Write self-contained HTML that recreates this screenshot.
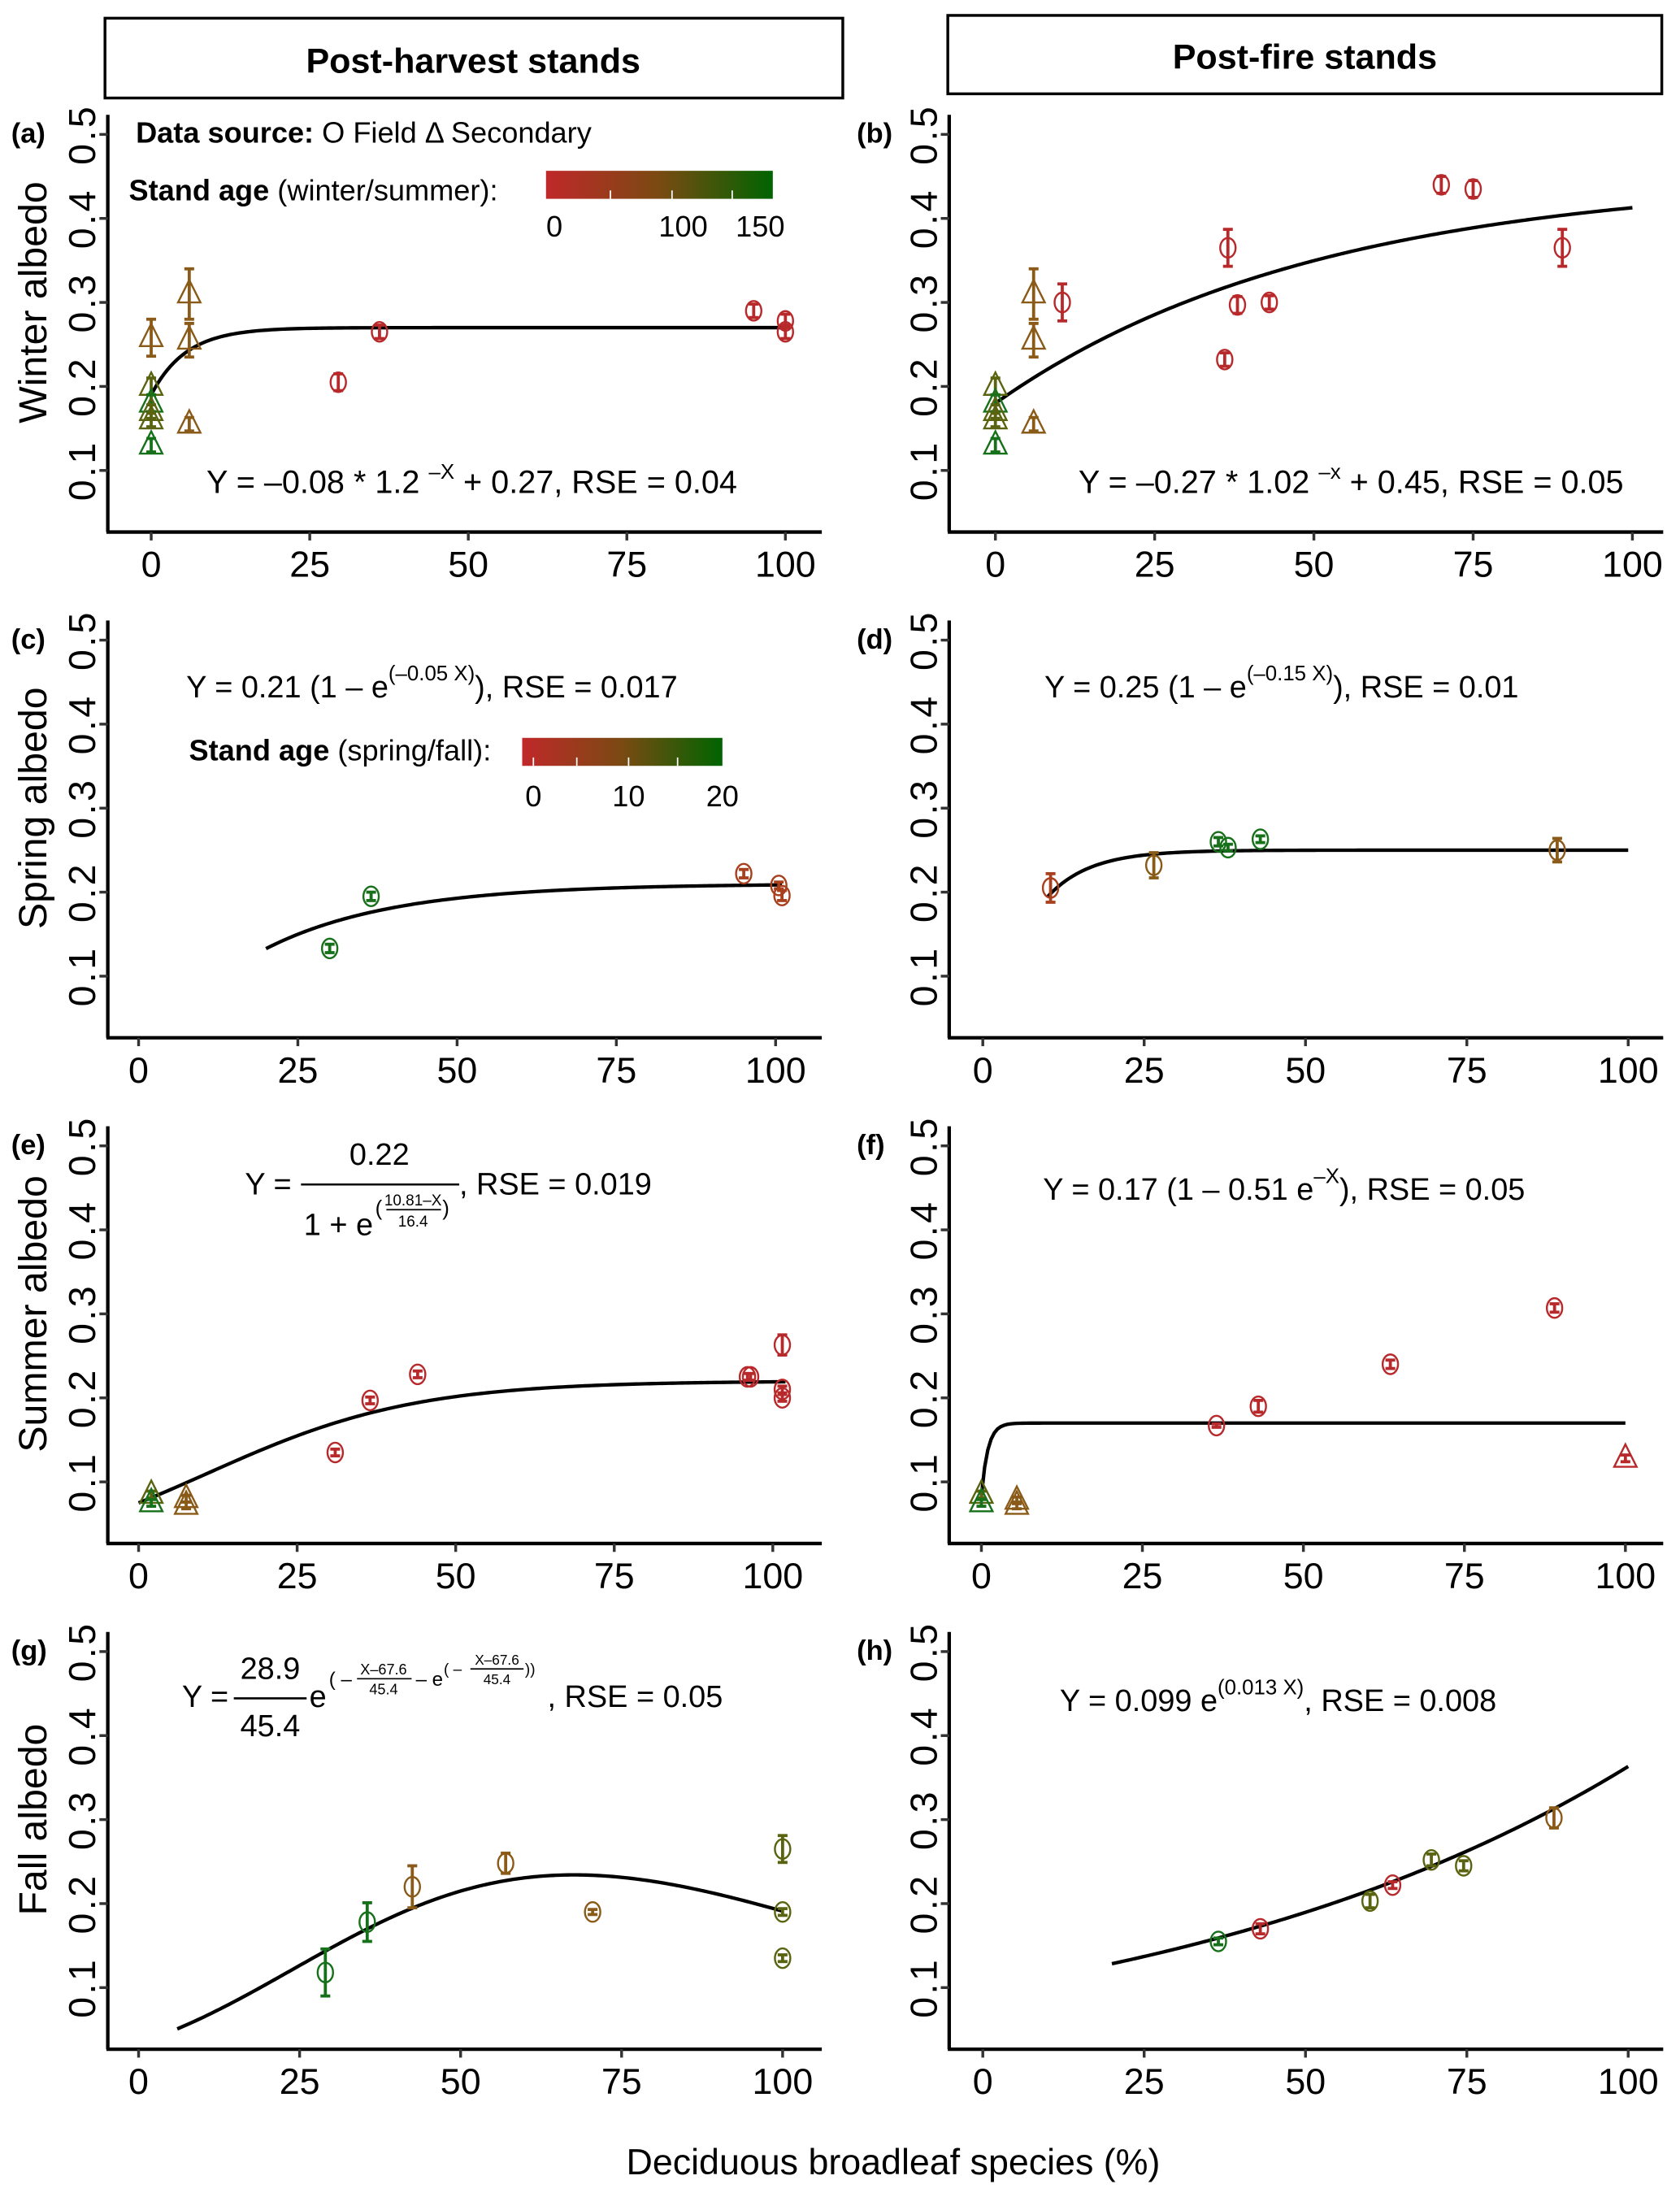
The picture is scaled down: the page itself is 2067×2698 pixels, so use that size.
<!DOCTYPE html>
<html><head><meta charset="utf-8"><style>
html,body{margin:0;padding:0;background:#fff}
svg{display:block}
text{font-family:"Liberation Sans",Arial,sans-serif;fill:#000}
</style></head><body>
<svg id="fig" xmlns="http://www.w3.org/2000/svg" width="2067" height="2698" viewBox="0 0 1200 1566.3" preserveAspectRatio="none">
<defs>
<linearGradient id="gr" x1="0" x2="1" y1="0" y2="0"><stop offset="0" stop-color="#c0282a"/><stop offset="0.5" stop-color="#7a4a12"/><stop offset="1" stop-color="#006400"/></linearGradient>
</defs>
<rect x="75" y="13" width="527" height="57" fill="none" stroke="#000" stroke-width="2"/>
<text x="338" y="52" font-size="25" font-weight="bold" text-anchor="middle">Post-harvest stands</text>
<rect x="677" y="11" width="510" height="56" fill="none" stroke="#000" stroke-width="2"/>
<text x="932" y="49" font-size="25" font-weight="bold" text-anchor="middle">Post-fire stands</text>
<text x="638" y="1553" font-size="26" text-anchor="middle">Deciduous broadleaf species (%)</text>
<g id="plots"></g>
<g>
<text x="97" y="102" font-size="21"><tspan font-weight="bold">Data source:</tspan> O Field Δ Secondary</text>
<text x="92" y="143" font-size="21"><tspan font-weight="bold">Stand age</tspan> (winter/summer):</text>
<rect x="390" y="122" width="162" height="20" fill="url(#gr)"/>
<line x1="436" y1="136" x2="436" y2="142" stroke="#fff"/><line x1="480" y1="136" x2="480" y2="142" stroke="#fff"/><line x1="523" y1="136" x2="523" y2="142" stroke="#fff"/>
<text x="396" y="169" font-size="21" text-anchor="middle">0</text>
<text x="488" y="169" font-size="21" text-anchor="middle">100</text>
<text x="543" y="169" font-size="21" text-anchor="middle">150</text>
</g>
<text x="337" y="352" font-size="23" text-anchor="middle">Y = –0.08 * 1.2 <tspan font-size="15" dy="-10">–X</tspan><tspan dy="10"> + 0.27, RSE = 0.04</tspan></text>
<text x="965" y="352" font-size="23" text-anchor="middle">Y = –0.27 * 1.02 <tspan font-size="15" dy="-10">–x</tspan><tspan dy="10"> + 0.45, RSE = 0.05</tspan></text>
<text x="133" y="498" font-size="22">Y = 0.21 (1 – e<tspan font-size="15" dy="-12">(–0.05 X)</tspan><tspan dy="12">), RSE = 0.017</tspan></text>
<g>
<text x="135" y="543" font-size="21"><tspan font-weight="bold">Stand age</tspan> (spring/fall):</text>
<rect x="373" y="527" width="143" height="20" fill="url(#gr)"/>
<line x1="381" y1="541" x2="381" y2="547" stroke="#fff"/><line x1="412" y1="541" x2="412" y2="547" stroke="#fff"/><line x1="449" y1="541" x2="449" y2="547" stroke="#fff"/><line x1="484" y1="541" x2="484" y2="547" stroke="#fff"/>
<text x="381" y="576" font-size="21" text-anchor="middle">0</text>
<text x="449" y="576" font-size="21" text-anchor="middle">10</text>
<text x="516" y="576" font-size="21" text-anchor="middle">20</text>
</g>
<text x="746" y="498" font-size="22">Y = 0.25 (1 – e<tspan font-size="15" dy="-12">(–0.15 X)</tspan><tspan dy="12">), RSE = 0.01</tspan></text>
<g>
<text x="175" y="853" font-size="22">Y =</text>
<line x1="215" y1="846" x2="328" y2="846" stroke="#000" stroke-width="1.5"/>
<text x="271" y="832" font-size="22" text-anchor="middle">0.22</text>
<text x="217" y="882" font-size="22">1 + e</text>
<text x="268" y="868" font-size="15">(</text>
<text x="295" y="861" font-size="11" text-anchor="middle">10.81–X</text>
<line x1="276" y1="864" x2="315" y2="864" stroke="#000"/>
<text x="295" y="876" font-size="11" text-anchor="middle">16.4</text>
<text x="316" y="868" font-size="15">)</text>
<text x="328" y="853" font-size="22">, RSE = 0.019</text>
</g>
<text x="745" y="857" font-size="22">Y = 0.17 (1 – 0.51 e<tspan font-size="15" dy="-12">–X</tspan><tspan dy="12">), RSE = 0.05</tspan></text>
<g>
<text x="130" y="1219" font-size="22">Y =</text>
<line x1="167" y1="1213" x2="219" y2="1213" stroke="#000" stroke-width="1.5"/>
<text x="193" y="1199" font-size="22" text-anchor="middle">28.9</text>
<text x="193" y="1240" font-size="22" text-anchor="middle">45.4</text>
<text x="221" y="1219" font-size="22">e</text>
<text x="235" y="1204" font-size="14">( –</text>
<text x="274" y="1196" font-size="10.5" text-anchor="middle">X–67.6</text>
<line x1="255" y1="1199" x2="294" y2="1199" stroke="#000"/>
<text x="274" y="1210" font-size="10.5" text-anchor="middle">45.4</text>
<text x="297" y="1204" font-size="14">– e</text>
<text x="317" y="1196" font-size="11">( –</text>
<text x="355" y="1189" font-size="10" text-anchor="middle">X–67.6</text>
<line x1="336" y1="1192" x2="374" y2="1192" stroke="#000"/>
<text x="355" y="1203" font-size="10" text-anchor="middle">45.4</text>
<text x="375" y="1196" font-size="11">))</text>
<text x="391" y="1219" font-size="22">, RSE = 0.05</text>
</g>
<text x="757" y="1222" font-size="22">Y = 0.099 e<tspan font-size="15" dy="-12">(0.013 X)</tspan><tspan dy="12">, RSE = 0.008</tspan></text>
</svg>
<script>
const aX=[0,0,0,0,0,0,6,6,6,29.5,36,95,100,100];
const aY=[0.20,0.18,0.17,0.16,0.13,0.258,0.31,0.255,0.155,0.205,0.265,0.29,0.278,0.265];
const aE=[0.01,0.01,0.008,0.008,0.008,0.022,0.03,0.02,0.008,0.01,0.008,0.008,0.008,0.008];
const aC=['o','g','o','o','g','b','b','b','b','r','r','r','r','r'];
const aS=['t','t','t','t','t','t','t','t','t','c','c','c','c','c'];
const bX=[0,0,0,0,0,6,6,6,10.5,36.5,36,38,43,70,75,89];
const bY=[0.20,0.18,0.17,0.16,0.13,0.31,0.255,0.155,0.30,0.365,0.232,0.297,0.30,0.44,0.435,0.365];
const bE=[0.01,0.01,0.008,0.008,0.008,0.03,0.02,0.008,0.022,0.022,0.008,0.01,0.008,0.01,0.01,0.022];
const bC=['o','g','o','o','g','b','b','b','r','r','r','r','r','r','r','r'];
const bS=['t','t','t','t','t','t','t','t','c','c','c','c','c','c','c','c'];
const cX=[30,36.5,95,100.5,101];
const cY=[0.133,0.195,0.222,0.208,0.196];
const cE=[0.005,0.005,0.005,0.004,0.006];
const cC=['g','g','rb','rb','rb'];
const cS=['c','c','c','c','c'];
const dX=[10.5,26.5,36.5,38,43,89];
const dY=[0.205,0.232,0.26,0.253,0.263,0.25];
const dE=[0.017,0.015,0.005,0.004,0.004,0.014];
const dC=['rb','b','g','g','g','b'];
const dS=['c','c','c','c','c','c'];
const eX=[2,2,7.5,7.5,31,36.5,44,96,96.5,101.5,101.5,101.5];
const eY=[0.085,0.075,0.08,0.072,0.135,0.197,0.228,0.225,0.225,0.263,0.21,0.2];
const eE=[0.004,0.004,0.004,0.004,0.004,0.004,0.004,0.004,0.004,0.012,0.004,0.004];
const eC=['o','g','b','b','r','r','r','r','r','r','r','r'];
const eS=['t','t','t','t','c','c','c','c','c','c','c','c'];
const fX=[0,0,5.5,5.5,100,36.5,43,63.5,89];
const fY=[0.085,0.075,0.078,0.072,0.128,0.167,0.19,0.24,0.307];
const fE=[0.004,0.004,0.004,0.004,0.004,0.002,0.007,0.005,0.005];
const fC=['o','g','b','b','r','r','r','r','r'];
const fS=['t','t','t','t','t','c','c','c','c'];
const gX=[29,35.5,42.5,57,70.5,100,100,100];
const gY=[0.118,0.178,0.22,0.248,0.19,0.265,0.19,0.135];
const gE=[0.028,0.023,0.025,0.012,0.003,0.016,0.004,0.004];
const gC=['g','g','b','b','b','o','o','o'];
const gS=['c','c','c','c','c','c','c','c'];
const hX=[36.5,43,60,63.5,69.5,74.5,88.5];
const hY=[0.155,0.17,0.203,0.222,0.252,0.245,0.302];
const hE=[0.004,0.006,0.008,0.004,0.007,0.006,0.012];
const hC=['g','r','o','r','o','o','b'];
const hS=['c','c','c','c','c','c','c'];
const xTicks=[0,25,50,75,100];
const yTicks=[0.1,0.2,0.3,0.4,0.5];
const yTickLabels=['0.1','0.2','0.3','0.4','0.5'];

const COLORS={r:'#b8292b',rb:'#a8401e',b:'#8a5a18',o:'#5a6410',g:'#17701a'};
const NS='http://www.w3.org/2000/svg';
const root=document.getElementById('plots');
function mk(tag,attrs,parent){const e=document.createElementNS(NS,tag);for(const k in attrs)e.setAttribute(k,attrs[k]);(parent||root).appendChild(e);return e;}

const panels=[
 {id:'a',col:0,row:0,X:aX,Y:aY,E:aE,C:aC,S:aS,ylab:'Winter albedo',f:x=>-0.08*Math.pow(1.2,-x)+0.27,r:[0,100],x0:108,x100:561},
 {id:'b',col:1,row:0,X:bX,Y:bY,E:bE,C:bC,S:bS,f:x=>-0.27*Math.pow(1.02,-x)+0.45,r:[0,100],x0:711,x100:1166},
 {id:'c',col:0,row:1,X:cX,Y:cY,E:cE,C:cC,S:cS,ylab:'Spring albedo',f:x=>0.21*(1-Math.exp(-0.05*x)),r:[20,101],x0:99,x100:554},
 {id:'d',col:1,row:1,X:dX,Y:dY,E:dE,C:dC,S:dS,f:x=>0.25*(1-Math.exp(-0.15*x)),r:[10,100],x0:702,x100:1163},
 {id:'e',col:0,row:2,X:eX,Y:eY,E:eE,C:eC,S:eS,ylab:'Summer albedo',f:x=>0.22/(1+Math.exp((10.81-x)/16.4)),r:[0,102],x0:99,x100:552},
 {id:'f',col:1,row:2,X:fX,Y:fY,E:fE,C:fC,S:fS,f:x=>0.17*(1-0.51*Math.exp(-x)),r:[0,100],x0:701,x100:1161},
 {id:'g',col:0,row:3,X:gX,Y:gY,E:gE,C:gC,S:gS,ylab:'Fall albedo',f:x=>{const z=(x-67.6)/45.4;return 28.9/45.4*Math.exp(-z-Math.exp(-z));},r:[6,100],x0:99,x100:559},
 {id:'h',col:1,row:3,X:hX,Y:hY,E:hE,C:hC,S:hS,f:x=>0.099*Math.exp(0.013*x),r:[20,100],x0:702,x100:1163}
];

panels.forEach(p=>{
  const off=p.row*361.2;
  const y05=96+off, y01=336+off, xAxisY=380+off, top=82+off;
  const axL=p.col?678:77, axR=p.col?1188:587;
  const sx=v=>p.x0+(p.x100-p.x0)*v/100;
  const sy=v=>y01-(v-0.1)*(y01-y05)/0.4;
  const g=mk('g',{});
  
  
  const ya=mk('line',{x1:axL,y1:top,x2:axL,y2:xAxisY,stroke:'#000','stroke-width':2.5},g);
  
  
  const xa=mk('line',{x1:axL-1,y1:xAxisY,x2:axR,y2:xAxisY,stroke:'#000','stroke-width':2.5},g);
  
  
  yTicks.forEach((t,i)=>{
    const y=sy(t);
    mk('line',{x1:axL-6,y1:y,x2:axL,y2:y,stroke:'#333','stroke-width':2},g);
    const tx=mk('text',{x:0,y:0,'font-size':27,'text-anchor':'middle',transform:`translate(${axL-9},${y}) rotate(-90)`,'letter-spacing':'2'},g);
    tx.textContent=yTickLabels[i];
    
    
  });
  xTicks.forEach(t=>{
    const x=sx(t);
    mk('line',{x1:x,y1:xAxisY,x2:x,y2:xAxisY+6,stroke:'#333','stroke-width':2},g);
    const tx=mk('text',{x:x,y:xAxisY+32,'font-size':26,'text-anchor':'middle'},g);
    tx.textContent=String(t);
    
    
  });
  const lab=mk('text',{x:p.col?612:8,y:top+20,'font-size':20,'font-weight':'bold'},g);
  lab.textContent='('+p.id+')';
  
  
  if(p.ylab){
    const yl=mk('text',{x:0,y:0,'font-size':28,'text-anchor':'middle',transform:`translate(33,${(y05+y01)/2}) rotate(-90)`},g);
    yl.textContent=p.ylab;
    
    
  }
  let d='';
  for(let i=0;i<=200;i++){const x=p.r[0]+(p.r[1]-p.r[0])*i/200;d+=(i?'L':'M')+sx(x).toFixed(2)+','+sy(p.f(x)).toFixed(2);}
  const cv=mk('path',{d:d,fill:'none',stroke:'#000','stroke-width':2.5},g);
  
  
  p.X.forEach((xv,i)=>{
    const col=COLORS[p.C[i]];
    const cx=sx(xv), cy=sy(p.Y[i]);
    const pt=mk('g',{},g);
    
    
    const y1=sy(p.Y[i]+p.E[i]), y2=sy(p.Y[i]-p.E[i]);
    mk('line',{x1:cx,y1:y1,x2:cx,y2:y2,stroke:col,'stroke-width':2.2},pt);
    mk('line',{x1:cx-3.5,y1:y1,x2:cx+3.5,y2:y1,stroke:col,'stroke-width':2.2},pt);
    mk('line',{x1:cx-3.5,y1:y2,x2:cx+3.5,y2:y2,stroke:col,'stroke-width':2.2},pt);
    if(p.S[i]==='t'){
      mk('path',{d:`M${cx},${cy-10}L${cx+8},${cy+6}L${cx-8},${cy+6}Z`,fill:'none',stroke:col,'stroke-width':1.4},pt);
    }else{
      mk('ellipse',{cx:cx,cy:cy,rx:5.5,ry:7,fill:'none',stroke:col,'stroke-width':1.4},pt);
    }
  });
});
</script>
</body></html>
